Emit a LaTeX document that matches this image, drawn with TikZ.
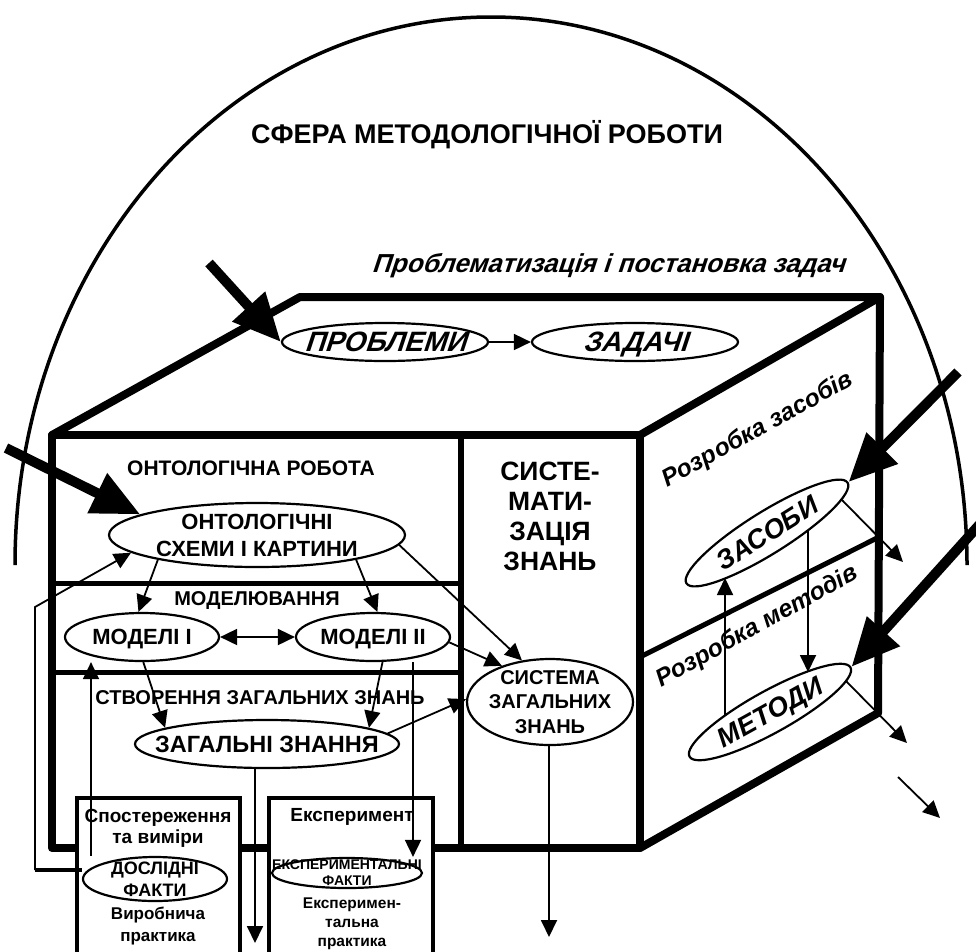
\documentclass[tikz,border=0pt]{standalone}
\usepackage{fontspec}
\setmainfont{Liberation Sans}
\newfontfamily\slantfont[FakeSlant=0.33]{Liberation Sans}
\usetikzlibrary{arrows.meta,shapes.geometric}
\tikzset{
  sphere/.style={line width=3.5pt},
  cubeedge/.style={line width=8pt, line join=round, line cap=round},
  divider/.style={line width=5pt},
  boxline/.style={line width=4pt, fill=white},
  ell/.style={draw, ellipse, line width=2.2pt, inner sep=0pt},
  conn/.style={line width=1.8pt, -{Triangle[length=17pt,width=16pt]}},
  fatline/.style={line width=4.5pt},
  bigarrow/.style={line width=10pt, -{Triangle[length=48pt,width=42pt]}},
  lbl/.style={inner sep=0pt, align=center, font=\bfseries},
  nodepth/.style={text depth=0pt},
}
\begin{document}
\begin{tikzpicture}[x=1pt,y=-1pt]
\useasboundingbox (0,0) rectangle (976,951);

% sphere of methodological work
\draw[sphere] (15,565) arc[start angle=180,end angle=360,x radius=476,y radius=548];
\node[lbl, font={\bfseries\fontsize{27}{29}\selectfont}] (title) at (487,135) {СФЕРА МЕТОДОЛОГІЧНОЇ РОБОТИ};
\node[lbl, font={\slantfont\bfseries\fontsize{26}{28}\selectfont}] (probtitle) at (608,266) {Проблематизація і постановка задач};

% cube
\draw[cubeedge] (52,435) rectangle (640,848);
\draw[cubeedge] (52,435) -- (300,297) -- (880,297) -- (640,435);
\draw[cubeedge] (880,297) -- (878,713) -- (640,848);
\draw[divider] (640,657) -- (879,537);
\draw[divider] (52,583) -- (461,583);
\draw[divider] (52,672) -- (461,672);
\draw[line width=6pt] (461,435) -- (461,848);

% practice boxes
\draw[boxline] (77,970) -- (77,798) -- (240,798) -- (240,970);
\draw[boxline] (269,970) -- (269,798) -- (433,798) -- (433,970);

% top face
\node[ell, minimum width=206pt, minimum height=38pt] (probl) at (385,342) {};
\node[lbl, nodepth, font={\slantfont\bfseries\fontsize{28}{30}\selectfont}] (probltxt) at (probl) {ПРОБЛЕМИ};
\node[ell, minimum width=206pt, minimum height=38pt] (zad) at (635,342) {};
\node[lbl, nodepth, font={\slantfont\bfseries\fontsize{28}{30}\selectfont}] (zadtxt) at (zad) {ЗАДАЧІ};

% front face texts
\node[lbl, font={\bfseries\fontsize{21}{23}\selectfont}] (ontowork) at (251,468) {ОНТОЛОГІЧНА РОБОТА};
\node[lbl, font={\bfseries\fontsize{20}{22}\selectfont}] (modwork) at (257,600) {МОДЕЛЮВАННЯ};
\node[lbl, font={\bfseries\fontsize{20}{22}\selectfont}] (genwork) at (260,698) {СТВОРЕННЯ ЗАГАЛЬНИХ ЗНАНЬ};
\node[lbl, font={\bfseries\fontsize{26.5}{30}\selectfont}] (sysword) at (550,516) {СИСТЕ-\\МАТИ-\\ЗАЦІЯ\\ЗНАНЬ};

\node[ell, minimum width=296pt, minimum height=64pt] (onto) at (257,535) {};
\node[lbl, font={\bfseries\fontsize{22}{27}\selectfont}] (ontotxt) at (onto) {ОНТОЛОГІЧНІ\\СХЕМИ І КАРТИНИ};
\node[ell, minimum width=154pt, minimum height=48pt] (m1) at (142,637) {};
\node[lbl, nodepth, font={\bfseries\fontsize{22}{24}\selectfont}] (m1txt) at (m1) {МОДЕЛІ І};
\node[ell, minimum width=154pt, minimum height=48pt] (m2) at (373,637) {};
\node[lbl, nodepth, font={\bfseries\fontsize{22}{24}\selectfont}] (m2txt) at (m2) {МОДЕЛІ ІІ};
\node[ell, minimum width=264pt, minimum height=48pt] (zag) at (267,744) {};
\node[lbl, nodepth, font={\bfseries\fontsize{23.5}{26}\selectfont}] (zagtxt) at (zag) {ЗАГАЛЬНІ ЗНАННЯ};
\node[ell, minimum width=166pt, minimum height=86pt] (sys) at (550,702) {};
\node[lbl, font={\bfseries\fontsize{20}{24.5}\selectfont}] (systxt) at (sys) {СИСТЕМА\\ЗАГАЛЬНИХ\\ЗНАНЬ};

% box texts
\node[lbl, font={\bfseries\fontsize{19}{21}\selectfont}] (obs) at (158,828) {Спостереження\\та виміри};
\node[ell, minimum width=144pt, minimum height=44pt] (dosl) at (155,879) {};
\node[lbl, font={\bfseries\fontsize{18}{22}\selectfont}] (dosltxt) at (dosl) {ДОСЛІДНІ\\ФАКТИ};
\node[lbl, font={\bfseries\fontsize{17}{22}\selectfont}] (prod) at (158,926) {Виробнича\\практика};
\node[lbl, font={\bfseries\fontsize{19}{21}\selectfont}] (exper) at (352,817) {Експеримент};
\node[ell, minimum width=150pt, minimum height=30pt] (ekf) at (347,873) {};
\node[lbl, font={\bfseries\fontsize{14}{16}\selectfont}] (ekftxt) at (ekf) {ЕКСПЕРИМЕНТАЛЬНІ\\ФАКТИ};
\node[lbl, font={\bfseries\fontsize{15.5}{19}\selectfont}] (expr) at (352,924) {Експеримен-\\тальна\\практика};

% right face
\node[lbl, rotate=29, font={\bfseries\itshape\fontsize{24.5}{26}\selectfont}] (devtools) at (758,430) {Розробка засобів};
\node[lbl, rotate=29, font={\bfseries\itshape\fontsize{24.5}{26}\selectfont}] (devmeth) at (757,627) {Розробка методів};
\node[ell, rotate=32, minimum width=190pt, minimum height=42pt] (zas) at (767,533) {};
\node[lbl, nodepth, rotate=32, font={\bfseries\itshape\fontsize{27}{29}\selectfont}] (zastxt) at (zas) {ЗАСОБИ};
\node[ell, rotate=29, minimum width=184pt, minimum height=42pt] (met) at (770,712) {};
\node[lbl, nodepth, rotate=29, font={\bfseries\itshape\fontsize{27}{29}\selectfont}] (mettxt) at (met) {МЕТОДИ};

% named free ends and boundary points
\coordinate (zasB) at (808,530);
\coordinate (metT) at (808,672);
\coordinate (metU) at (725,715);
\coordinate (zasL) at (725,578);
\coordinate (zasR) at (842,500);
\coordinate (zasOut) at (903,562);
\coordinate (metR) at (846,681);
\coordinate (metOut) at (907,743);
\coordinate (freeA) at (898,777);
\coordinate (freeB) at (940,818);
\coordinate (zagOut) at (255,943);
\coordinate (sysOut) at (549,937);
\coordinate (fbA) at (35,870);
\coordinate (fbB) at (35,607);
\coordinate (m1x) at (91,0);
\coordinate (m2x) at (413,0);

% connectors
\draw[conn] (probl.east) -- (zad.west);
\draw[conn] (onto.-166) -- (m1.98);
\draw[conn] (onto.-14) -- (m2.80);
\draw[conn] (onto.-4) -- (sys.124);
\draw[conn] (m1.-87) -- (zag.171);
\draw[conn] (m2.-69) -- (zag.9);
\draw[{Triangle[length=17pt,width=16pt]}-{Triangle[length=17pt,width=16pt]}, line width=1.8pt] (m1.east) -- (m2.west);
\draw[conn] (m2.-4) -- (sys.143);
\draw[conn] (zag.5) -- (sys.178);
\draw[conn] (zag.south -| zagOut) -- (zagOut);
\draw[conn] (sys.south -| sysOut) -- (sysOut);
\draw[conn] (m2.south -| m2x) -- (ekf.north -| m2x);
\draw[conn] (dosl.north -| m1x) -- (m1.south -| m1x);
\draw[fatline] (dosl.west |- fbA) -- (fbA);
\draw[conn] (fbA) -- (fbB) -- (onto.188);

\draw[conn] (zasB) -- (metT);
\draw[conn] (metU) -- (zasL);
\draw[conn] (zasR) -- (zasOut);
\draw[conn] (metR) -- (metOut);
\draw[conn] (freeA) -- (freeB);

% big input arrows
\coordinate (bigA) at (209,263);
\coordinate (bigB) at (6,448);
\coordinate (bigC) at (958,372);
\coordinate (bigD) at (980,524);
\draw[bigarrow] (bigA) -- (probl.west);
\draw[bigarrow] (bigB) -- (onto.170);
\draw[bigarrow] (bigC) -- (zas.east);
\draw[bigarrow] (bigD) -- (met.east);
\end{tikzpicture}
\end{document}
